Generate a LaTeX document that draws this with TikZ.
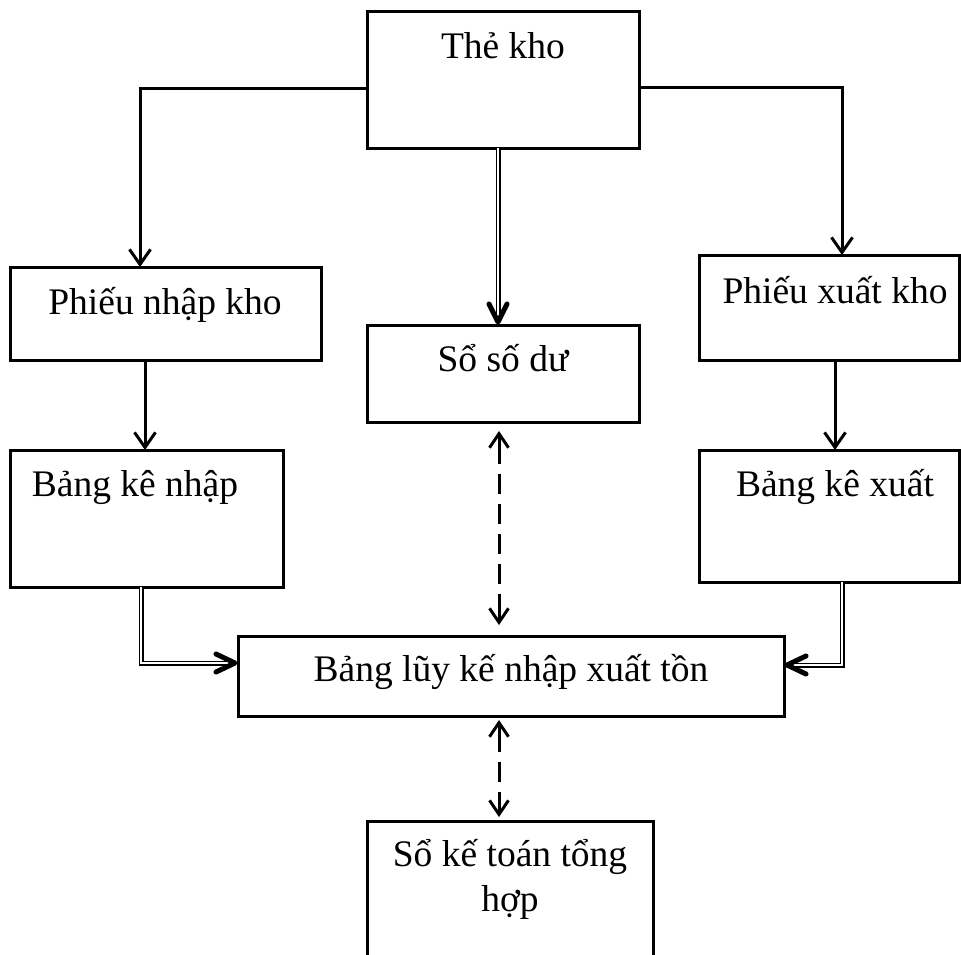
\documentclass[tikz,border=0pt]{standalone}
\usepackage{fontspec}
\setmainfont{Liberation Serif}
\usetikzlibrary{arrows.meta,calc}
\begin{document}
\begin{tikzpicture}[x=1pt,y=-1pt,
  box/.style={draw,line width=3pt,inner sep=0pt,outer sep=0pt},
  txt/.style={font=\fontsize{37.5}{45}\selectfont,inner sep=0pt,anchor=base},
  conn/.style={line width=3pt},
  sarrow/.style={-{Straight Barb[length=15pt,width=21pt]}},
  dbl/.style={double,line width=1.5pt,double distance=2pt},
  head/.style={line width=5pt,line join=round,line cap=round},
  dsh/.style={line width=3pt,dash pattern=on 20pt off 10pt},
  tip/.style={line width=3pt,-{Straight Barb[length=14pt,width=19pt]}}
]
\path[use as bounding box] (0,0) rectangle (961,954);
\clip (0,0) rectangle (961,954);

% boxes
\node[box,minimum width=272pt,minimum height=137pt] (the) at (503,79.5) {};
\node[box,minimum width=311pt,minimum height=93pt]  (pn)  at (165.5,313.5) {};
\node[box,minimum width=273pt,minimum height=137pt] (bkn) at (146.5,518.5) {};
\node[box,minimum width=272pt,minimum height=97pt]  (ssd) at (503,373.5) {};
\node[box,minimum width=260pt,minimum height=105pt] (px)  at (829,307.5) {};
\node[box,minimum width=260pt,minimum height=132pt] (bkx) at (829,516) {};
\node[box,minimum width=546pt,minimum height=80pt]  (lk)  at (511,676) {};
\node[box,minimum width=286pt,minimum height=160pt] (sk)  at (510,901) {};

% labels
\node[txt] (theT) at (503,58)  {Thẻ kho};
\node[txt] (pnT)  at (165,314) {Phiếu nhập kho};
\node[txt] (bknT) at (135,496) {Bảng kê nhập};
\node[txt] (ssdT) at (503,371) {Sổ số dư};
\node[txt] (pxT)  at (835,303) {Phiếu xuất kho};
\node[txt] (bkxT) at (835,496) {Bảng kê xuất};
\node[txt] (lkT)  at (511,681) {Bảng lũy kế nhập xuất tồn};
\node[txt,align=center] (skT) at (510,911) {Sổ kế toán tổng\\hợp};

% helper coordinates for connector routes
\coordinate (xl)  at (140,0);
\coordinate (yl)  at (0,88);
\coordinate (xr)  at (842,0);
\coordinate (yr)  at (0,87);
\coordinate (xpn) at (145,0);
\coordinate (xpx) at (835,0);
\coordinate (xc)  at (498,0);
\coordinate (xd)  at (499,0);
\coordinate (xdl) at (141,0);
\coordinate (ydl) at (0,663);
\coordinate (xdr) at (842,0);
\coordinate (ydr) at (0,665);

% single arrows
\draw[conn,sarrow] (the.west |- yl) -| (pn.north -| xl);
\draw[conn,sarrow] (the.east |- yr) -| (px.north -| xr);
\draw[conn,sarrow] (pn.south -| xpn) -- (bkn.north -| xpn);
\draw[conn,sarrow] (px.south -| xpx) -- (bkx.north -| xpx);

% double arrows
\draw[dbl] (the.south -| xc) -- ($(ssd.north -| xc)+(0,-6)$);
\draw[head] ($(ssd.north -| xc)+(-9,-21)$) -- ($(ssd.north -| xc)+(0,-3)$) -- ($(ssd.north -| xc)+(9,-21)$);

\draw[dbl] (bkn.south -| xdl) |- ($(lk.west |- ydl)+(-6,0)$);
\draw[head] ($(lk.west |- ydl)+(-22,-9)$) -- ($(lk.west |- ydl)+(-3,0)$) -- ($(lk.west |- ydl)+(-22,9)$);

\draw[dbl] (bkx.south -| xdr) |- ($(lk.east |- ydr)+(6,0)$);
\draw[head] ($(lk.east |- ydr)+(22,-9)$) -- ($(lk.east |- ydr)+(3,0)$) -- ($(lk.east |- ydr)+(22,9)$);

% dashed two-way arrows, with solid tips at both ends
\draw[dsh] ($(ssd.south -| xd)+(0,22)$) -- ($(lk.north -| xd)+(0,-24)$);
\draw[tip] ($(ssd.south -| xd)+(0,24)$) -- ($(ssd.south -| xd)+(0,9)$);
\draw[tip] ($(lk.north -| xd)+(0,-26)$) -- ($(lk.north -| xd)+(0,-11)$);

\draw[dsh] ($(lk.south -| xd)+(0,16)$) -- ($(sk.north -| xd)+(0,-16)$);
\draw[tip] ($(lk.south -| xd)+(0,18)$) -- ($(lk.south -| xd)+(0,4)$);
\draw[tip] ($(sk.north -| xd)+(0,-18)$) -- ($(sk.north -| xd)+(0,-4)$);
\end{tikzpicture}
\end{document}
